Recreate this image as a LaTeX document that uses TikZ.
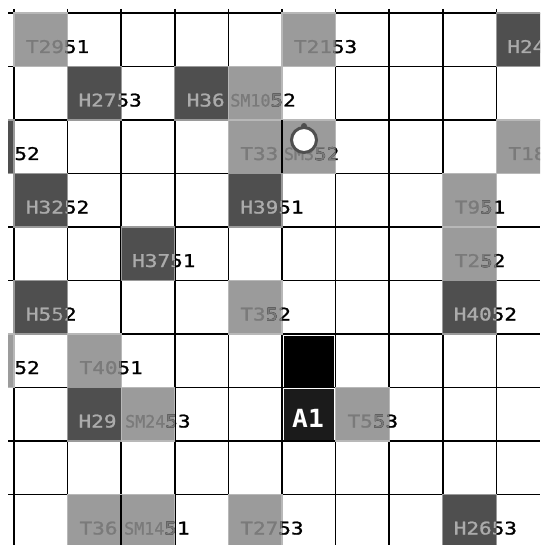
\documentclass[tikz,border=0pt]{standalone}
\usepackage{fontspec}
\newfontfamily\pixfont[FakeStretch=1.2,FakeBold=1.2]{DejaVu Sans Mono}
\newfontfamily\pixcond[FakeStretch=0.98,FakeBold=1.0]{DejaVu Sans Mono}
\newfontfamily\pixbold[FakeStretch=1.05]{DejaVu Sans Mono Bold}
\definecolor{tfill}{HTML}{9B9B9B}
\definecolor{tedge}{HTML}{B8B8B8}
\definecolor{ttext}{HTML}{7A7A7A}
\definecolor{hfill}{HTML}{4F4F4F}
\definecolor{hedge}{HTML}{9A9A9A}
\definecolor{htext}{HTML}{ABABAB}
\definecolor{afill}{HTML}{1B1B1B}
\tikzset{
  lbl/.style={inner sep=0pt, outer sep=0pt, font={\pixfont\fontsize{17.5}{17.5}\selectfont}},
  clbl/.style={lbl, font={\pixcond\fontsize{17}{17}\selectfont}},
  gridline/.style={line width=1.6pt, black},
}
% #1 col #2 row #3 fill #4 edge #5 text colour #6 label style #7 label #8 number #9 label offset
\newcommand\gcell[9]{%
  \pgfmathsetmacro\xa{14+53.6*(#1)}%
  \pgfmathsetmacro\xb{14+53.6*(#1+1)}%
  \pgfmathsetmacro\ya{13+53.5*(#2)}%
  \pgfmathsetmacro\yb{13+53.5*(#2+1)}%
  \path[fill=#3,draw=#4,line width=1.2pt] (\xa,\ya) rectangle (\xb,\yb);
  \node[#6,text=#5,anchor=base west] (L#1x#2) at (\xa+#9,\ya+40) {#7};
  \node[lbl,text=black,anchor=base west] (N#1x#2) at (L#1x#2.base east) {#8};
  \begin{scope}
    \clip (\xa,\ya) rectangle (\xb,\yb);
    \node[lbl,text=#5,anchor=base west] (M#1x#2) at (L#1x#2.base east) {#8};
  \end{scope}}
\newcommand\tcell[5]{\gcell{#1}{#2}{tfill}{tedge}{ttext}{lbl}{#3}{#4}{#5}}
\newcommand\scell[5]{\gcell{#1}{#2}{tfill}{tedge}{ttext}{clbl}{#3}{#4}{#5}}
\newcommand\hcell[5]{\gcell{#1}{#2}{hfill}{hedge}{htext}{lbl}{#3}{#4}{#5}}
\begin{document}
\begin{tikzpicture}[x=1pt,y=-1pt]
\useasboundingbox (0,0) rectangle (540,545);
\fill[white] (0,0) rectangle (540,545);
\begin{scope}
\clip (8,9) rectangle (540,545);
% grid
\foreach \c in {0,...,9} \draw[gridline] (14+53.6*\c,9) -- (14+53.6*\c,545);
\foreach \r in {0,...,9} \draw[gridline] (8,13+53.5*\r) -- (540,13+53.5*\r);
% row 0
\tcell{0}{0}{T29}{51}{12}
\tcell{5}{0}{T21}{53}{12}
\hcell{9}{0}{H24}{}{11}
% row 1
\hcell{1}{1}{H27}{53}{11}
\hcell{3}{1}{H36}{}{12}
\scell{4}{1}{SM10}{52}{2}
% row 2
\hcell{-1}{2}{}{52}{53}
\tcell{4}{2}{T33}{}{12}
\scell{5}{2}{SM3}{52}{2}
\tcell{9}{2}{T18}{}{12}
% row 3
\hcell{0}{3}{H32}{52}{12}
\hcell{4}{3}{H39}{51}{12}
\tcell{8}{3}{T9}{51}{12}
% row 4
\hcell{2}{4}{H37}{51}{11}
\tcell{8}{4}{T2}{52}{12}
% row 5
\hcell{0}{5}{H5}{52}{12}
\tcell{4}{5}{T3}{52}{12}
\hcell{8}{5}{H40}{52}{11}
% row 6
\tcell{-1}{6}{}{52}{53}
\tcell{1}{6}{T40}{51}{12}
\fill[black] (14+53.6*5+1.5,13+53.5*6+2) rectangle (14+53.6*6-2,13+53.5*7-1);
% row 7
\hcell{1}{7}{H29}{}{11}
\scell{2}{7}{SM24}{53}{4}
\fill[afill] (14+53.6*5+1.5,13+53.5*7+1) rectangle (14+53.6*6-2,13+53.5*8-1);
\node[inner sep=0pt,text=white,font={\pixbold\fontsize{25}{25}\selectfont}] (A1) at (308,418.5) {A1};
\tcell{6}{7}{T5}{53}{12}
% row 9
\tcell{1}{9}{T36}{}{12}
\scell{2}{9}{SM14}{51}{3}
\tcell{4}{9}{T27}{53}{12}
\hcell{8}{9}{H26}{53}{11}
% grid lines showing through
\draw[gridline] (14+53.6*5,13+53.5*2) -- (14+53.6*5,13+53.5*3);
\draw[gridline] (14+53.6*2,13+53.5*9) -- (14+53.6*2,545);
% marker
\node[circle,draw=hfill,fill=white,line width=3pt,minimum size=25pt,inner sep=0pt] (ball) at (304,140) {};
\node[circle,fill=hfill,minimum size=6pt,inner sep=0pt] (knob) at (ball.north) {};
\end{scope}
\end{tikzpicture}
\end{document}
